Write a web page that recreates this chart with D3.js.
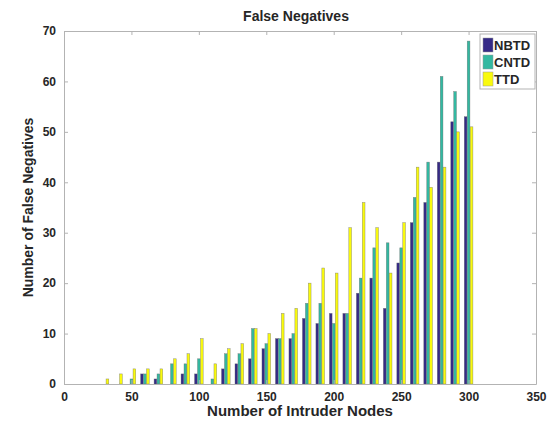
<!DOCTYPE html>
<html>
<head>
<meta charset="utf-8">
<script src="https://cdn.jsdelivr.net/npm/d3@7"></script>
<style>
  html, body { margin: 0; padding: 0; background: #fff; }
  svg { display: block; }
  text { font-family: "Liberation Sans", Arial, sans-serif; font-weight: bold; fill: #262626; }
</style>
</head>
<body>
<svg id="chart" width="559" height="422"></svg>
<script>
// Number of intruder nodes (group positions)
const intruderNodes = [30, 40, 50, 60, 70, 80, 90, 100, 110, 120, 130, 140, 150, 160,
                       170, 180, 190, 200, 210, 220, 230, 240, 250, 260, 270, 280, 290, 300];
// False negatives per detection scheme
const nbtd = [0, 0, 0, 2, 1, 0, 2, 2, 0, 3, 4, 5, 7, 9, 9, 13, 12, 14, 14, 18, 21, 15, 24, 32, 36, 44, 52, 53];
const cntd = [0, 0, 1, 2, 2, 4, 4, 5, 1, 6, 6, 11, 8, 9, 10, 16, 16, 12, 14, 21, 27, 28, 27, 37, 44, 61, 58, 68];
const ttd  = [1, 2, 3, 3, 3, 5, 6, 9, 4, 7, 8, 11, 10, 14, 15, 20, 23, 22, 31, 36, 31, 22, 32, 43, 39, 43, 50, 51];

const seriesNames = ["NBTD", "CNTD", "TTD"];
const seriesValues = [nbtd, cntd, ttd];
const seriesColors = ["#352a87", "#33b8a1", "#f9fa0e"];

const xTicks = [0, 50, 100, 150, 200, 250, 300, 350];
const yTicks = [0, 10, 20, 30, 40, 50, 60, 70];

const margin = { left: 64, top: 31, right: 559 - 536, bottom: 422 - 384 };
const W = 559, H = 422;
const svg = d3.select("#chart");

const x = d3.scaleLinear().domain([0, 350]).range([margin.left, W - margin.right]);
const y = d3.scaleLinear().domain([0, 70]).range([H - margin.bottom, margin.top]);

// grouped bar geometry in data units
const barOffset = 2.2;
const barWidth = 2.0;
const bw = x(barWidth) - x(0);

const g = svg.append("g");
seriesValues.forEach((vals, si) => {
  g.append("g")
    .selectAll("rect")
    .data(intruderNodes.map((n, i) => ({ n, v: vals[i] })).filter(d => d.v > 0))
    .join("rect")
    .attr("x", d => x(d.n + (si - 1) * barOffset) - bw / 2)
    .attr("y", d => y(d.v))
    .attr("width", bw)
    .attr("height", d => y(0) - y(d.v))
    .attr("fill", seriesColors[si])
    .attr("stroke", "#666")
    .attr("stroke-opacity", 0.7)
    .attr("stroke-width", 0.5);
});

// axes with inward ticks on all four sides
const axisColor = "#b3b3b3";
function styleAxis(sel) {
  sel.selectAll(".domain").attr("stroke", axisColor);
  sel.selectAll(".tick line").attr("stroke", axisColor);
  sel.selectAll(".tick text")
    .style("font-family", "'Liberation Sans', Arial, sans-serif")
    .style("font-weight", "bold")
    .style("font-size", "12px")
    .attr("fill", "#262626");
}

svg.append("g")
  .attr("transform", `translate(0,${y(0)})`)
  .call(d3.axisBottom(x).tickValues(xTicks).tickSizeInner(-4).tickSizeOuter(0).tickPadding(8))
  .call(styleAxis);

svg.append("g")
  .attr("transform", `translate(0,${y(70)})`)
  .call(d3.axisTop(x).tickValues(xTicks).tickSizeInner(-4).tickSizeOuter(0).tickFormat(""))
  .call(styleAxis);

svg.append("g")
  .attr("transform", `translate(${x(0)},0)`)
  .call(d3.axisLeft(y).tickValues(yTicks).tickSizeInner(-4).tickSizeOuter(0).tickPadding(8))
  .call(styleAxis);

svg.append("g")
  .attr("transform", `translate(${x(350)},0)`)
  .call(d3.axisRight(y).tickValues(yTicks).tickSizeInner(-4).tickSizeOuter(0).tickFormat(""))
  .call(styleAxis);

// title and axis labels
svg.append("text")
  .attr("x", 296).attr("y", 21)
  .attr("text-anchor", "middle")
  .style("font-size", "14px")
  .attr("fill", "#000")
  .text("False Negatives");

svg.append("text")
  .attr("x", (x(0) + x(350)) / 2).attr("y", 416)
  .attr("text-anchor", "middle")
  .style("font-size", "15px")
  .text("Number of Intruder Nodes");

svg.append("text")
  .attr("transform", `translate(33,${(y(0) + y(70)) / 2}) rotate(-90)`)
  .attr("text-anchor", "middle")
  .style("font-size", "14px")
  .text("Number of False Negatives");

// legend
const lg = svg.append("g");
lg.append("rect")
  .attr("x", 480).attr("y", 34).attr("width", 55).attr("height", 55)
  .attr("fill", "#fff").attr("stroke", axisColor).attr("stroke-width", 1);
seriesNames.forEach((name, i) => {
  const cy = 45 + i * 17;
  lg.append("rect")
    .attr("x", 483).attr("y", cy - 7).attr("width", 10).attr("height", 14)
    .attr("fill", seriesColors[i]).attr("stroke", "#999").attr("stroke-width", 0.5);
  lg.append("text")
    .attr("x", 494).attr("y", cy + 5)
    .style("font-size", "13px")
    .attr("fill", "#000")
    .text(name);
});
</script>
</body>
</html>
